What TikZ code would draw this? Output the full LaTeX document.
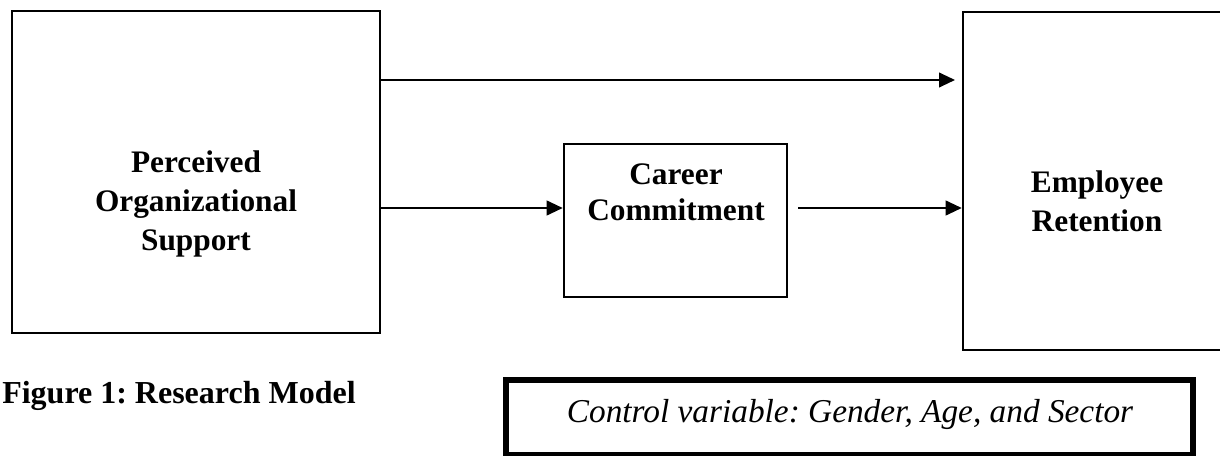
\documentclass[tikz,border=0pt]{standalone}
\usepackage{fontspec}
\setmainfont{Liberation Serif}
\frenchspacing
\usetikzlibrary{arrows.meta, positioning, calc}

\begin{document}
\begin{tikzpicture}[x=0.75pt, y=-0.75pt,
    varbox/.style={draw, line width=1.9pt, inner sep=0pt},
    vartext/.style={font=\fontsize{23.5}{29}\selectfont\bfseries, align=center},
    link/.style={line width=1.5pt, -{Triangle[length=12pt, width=11pt]}}]
  \useasboundingbox (0,0) rectangle (1220,456);

  %% Variable boxes
  \node[varbox, minimum width=276pt, minimum height=241.5pt] (pos) at (196,172) {};
  \node[varbox, minimum width=167.25pt, minimum height=114.75pt] (cc) at (675.5,220.5) {};
  \node[varbox, minimum width=194.25pt, minimum height=253.5pt] (ret) at (1092.5,181) {};

  %% Box texts
  \node[vartext] (posT) at (196,204) {Perceived\\Organizational\\Support};
  \node[vartext, font=\fontsize{23.5}{27}\selectfont\bfseries] (ccT) at (676,192) {Career\\Commitment};
  \node[vartext] (retT) at (1097,201) {Employee\\Retention};

  %% Paths
  \coordinate (hi) at (955,80);
  \coordinate (row) at (0,208);
  \draw[link] (pos.east |- hi) -- (hi);
  \draw[link] (pos.east |- row) -- (cc.west |- row);
  \draw[link] ([xshift=7.5pt]cc.east |- row) -- (ret.west |- row);

  %% Caption and control box
  \node[font=\fontsize{24}{29}\selectfont\bfseries, anchor=base west, inner sep=0pt]
    (cap) at (2,403) {Figure 1: Research Model};
  \node[draw, line width=4.5pt, minimum width=515.25pt, minimum height=56.25pt]
    (ctrl) at (849.5,417.5) {};
  \node[font=\fontsize{25}{29}\selectfont\itshape] (ctrlT) at (850,414)
    {Control variable: Gender, Age, and Sector};
\end{tikzpicture}
\end{document}
